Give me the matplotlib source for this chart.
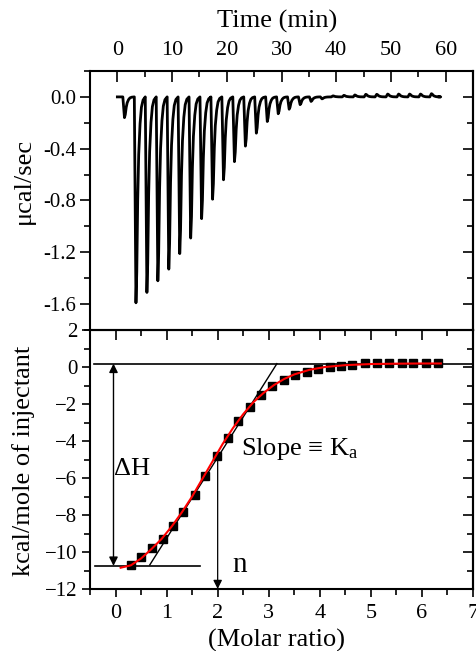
import numpy as np
import matplotlib
matplotlib.use("Agg")
import matplotlib.pyplot as plt
from matplotlib.ticker import MultipleLocator

plt.rcParams['font.family'] = ['Liberation Serif', 'DejaVu Serif']
plt.rcParams['mathtext.fontset'] = 'custom'
plt.rcParams['mathtext.rm'] = 'Liberation Serif'
plt.rcParams['mathtext.it'] = 'Liberation Serif:italic'

# raw thermogram: time of each injection peak (min) and peak height (ucal/sec)
peak_time = [1.3, 3.4, 5.4, 7.4, 9.4, 11.4, 13.4, 15.4, 17.4, 19.4, 21.4, 23.4, 25.4,
             27.4, 29.4, 31.4, 33.4, 35.4, 37.4, 39.4, 41.4, 43.4, 45.4, 47.4, 49.4,
             51.4, 53.4, 55.4, 57.4]
peak_height = [-0.16, -1.59, -1.51, -1.42, -1.33, -1.21, -1.09, -0.94, -0.79, -0.64,
               -0.50, -0.38, -0.28, -0.19, -0.13, -0.095, -0.06, -0.035, -0.015,
               0.008, 0.012, 0.015, 0.02, 0.02, 0.022, 0.022, 0.022, 0.022, 0.025]
trace_end = 58.8

# integrated heats
molar_ratio = [0.30, 0.50, 0.72, 0.92, 1.13, 1.32, 1.55, 1.75, 1.98, 2.20, 2.40, 2.63,
               2.85, 3.07, 3.29, 3.51, 3.74, 3.97, 4.19, 4.41, 4.64, 4.88, 5.12, 5.35,
               5.60, 5.83, 6.07, 6.31]
heat = [-10.68, -10.25, -9.79, -9.29, -8.60, -7.85, -6.90, -5.88, -4.81, -3.82, -2.92,
        -2.15, -1.54, -1.04, -0.72, -0.45, -0.25, -0.11, -0.02, 0.07, 0.12, 0.19, 0.21,
        0.23, 0.22, 0.22, 0.22, 0.22]

# fitted curve
fit_x = [0.10, 0.30, 0.50, 0.70, 0.90, 1.10, 1.30, 1.50, 1.70, 1.90, 2.10, 2.30, 2.50,
         2.70, 2.90, 3.10, 3.30, 3.50, 3.80, 4.10, 4.50, 5.00, 5.50, 6.00, 6.37]
fit_y = [-10.85, -10.72, -10.35, -9.85, -9.30, -8.62, -7.85, -7.00, -6.05, -5.10, -4.15,
         -3.30, -2.55, -1.90, -1.40, -0.98, -0.65, -0.40, -0.15, 0.00, 0.10, 0.16, 0.18,
         0.19, 0.19]

# peak shape (offset in min, fraction of peak height)
shape_dt = [-0.3, -0.12, 0.0, 0.15, 0.32, 0.5, 0.75, 1.0, 1.3, 1.7]
shape_fr = [0.0, 0.6, 1.0, 0.85, 0.5, 0.28, 0.13, 0.05, 0.015, 0.0]

t = [0.0]
p = [0.0]
for tm, h in zip(peak_time, peak_height):
    for dt, fr in zip(shape_dt, shape_fr):
        t.append(tm + dt)
        p.append(h * fr)
t.append(trace_end)
p.append(0.0)

W, H = 477, 651
fig = plt.figure(figsize=(W / 100, H / 100), dpi=100)
ax1 = fig.add_axes([90 / W, 1 - 330 / H, 383 / W, 259 / H])
ax2 = fig.add_axes([90 / W, 1 - 589 / H, 383 / W, 259 / H])

for ax in (ax1, ax2):
    for s in ax.spines.values():
        s.set_linewidth(1.5)

# top panel
ax1.plot(t, p, color='black', lw=2.0)
ax1.set_xlim(-5, 65)
ax1.set_ylim(-1.8, 0.2)
ax1.xaxis.set_major_locator(MultipleLocator(10))
ax1.xaxis.set_minor_locator(MultipleLocator(5))
ax1.yaxis.set_major_locator(MultipleLocator(0.4))
ax1.yaxis.set_minor_locator(MultipleLocator(0.2))
ax1.yaxis.set_major_formatter(matplotlib.ticker.FormatStrFormatter('%.1f'))
ax1.tick_params(axis='x', which='both', top=True, bottom=False, labeltop=True,
                labelbottom=False, direction='in', labelsize=16, pad=8)
ax1.tick_params(axis='x', which='major', length=8, width=1.2)
ax1.tick_params(axis='x', which='minor', length=4, width=1.2)
ax1.tick_params(axis='y', which='both', direction='out', labelsize=15, pad=3)
ax1.tick_params(axis='y', which='major', length=7, width=1.2)
ax1.tick_params(axis='y', which='minor', length=4, width=1.2)
r1 = ax1.secondary_yaxis('right')
r1.yaxis.set_major_locator(MultipleLocator(0.4))
r1.yaxis.set_minor_locator(MultipleLocator(0.2))
r1.tick_params(axis='y', which='both', direction='in', labelright=False)
r1.tick_params(axis='y', which='major', length=7, width=1.2)
r1.tick_params(axis='y', which='minor', length=4, width=1.2)
r1.spines['right'].set_linewidth(1.5)

# bottom panel
ax2.plot(molar_ratio, heat, 's', color='black', ms=6, zorder=3)
ax2.plot(fit_x, fit_y, color='red', lw=1.5, zorder=4)
ax2.plot([-0.42, 7.0], [0.18, 0.18], color='black', lw=1.2)
ax2.plot([-0.4, 1.65], [-10.75, -10.75], color='black', lw=1.2)
ax2.plot([0.67, 3.16], [-10.7, 0.18], color='black', lw=1.0)
ax2.annotate('', xy=(-0.04, 0.18), xytext=(-0.04, -10.75),
             arrowprops=dict(arrowstyle='<|-|>', color='black', lw=1.0,
                             mutation_scale=13, shrinkA=0, shrinkB=0))
ax2.annotate('', xy=(2.0, -12.0), xytext=(2.0, -4.8),
             arrowprops=dict(arrowstyle='-|>', color='black', lw=0.9,
                             mutation_scale=13, shrinkA=0, shrinkB=0))
ax2.text(-0.03, -5.5, 'ΔH', fontsize=19, ha='left', va='center')
ax2.text(2.45, -4.45, r'Slope ≡ K$_{\mathrm{a}}$', fontsize=19, ha='left', va='center')
ax2.text(2.28, -10.7, 'n', fontsize=21, ha='left', va='center')

ax2.set_xlim(-0.5, 7)
ax2.set_ylim(-12, 2)
ax2.xaxis.set_major_locator(MultipleLocator(1))
ax2.xaxis.set_minor_locator(MultipleLocator(0.5))
ax2.yaxis.set_major_locator(MultipleLocator(2))
ax2.yaxis.set_minor_locator(MultipleLocator(1))
ax2.tick_params(axis='x', which='both', direction='out', labelsize=16, pad=5)
ax2.tick_params(axis='y', which='both', direction='out', labelsize=15, pad=3)
ax2.tick_params(axis='both', which='major', length=6, width=1.2)
ax2.tick_params(axis='both', which='minor', length=4, width=1.2)
t2 = ax2.secondary_xaxis('top')
t2.xaxis.set_major_locator(MultipleLocator(1))
t2.xaxis.set_minor_locator(MultipleLocator(0.5))
t2.tick_params(axis='x', which='both', direction='in', labeltop=False)
t2.tick_params(axis='x', which='major', length=7, width=1.2)
t2.tick_params(axis='x', which='minor', length=4, width=1.2)
r2 = ax2.secondary_yaxis('right')
r2.yaxis.set_major_locator(MultipleLocator(2))
r2.yaxis.set_minor_locator(MultipleLocator(1))
r2.tick_params(axis='y', which='both', direction='in', labelright=False)
r2.tick_params(axis='y', which='major', length=7, width=1.2)
r2.tick_params(axis='y', which='minor', length=4, width=1.2)
r2.spines['right'].set_linewidth(1.5)

fig.text(277 / W, 1 - 21 / H, 'Time (min)', fontsize=19, ha='center', va='center')
fig.text(277 / W, 1 - 640 / H, '(Molar ratio)', fontsize=19, ha='center', va='center')
fig.text(24 / W, 1 - 181 / H, 'μcal/sec', fontsize=19, ha='center', va='center', rotation=90)
fig.text(24 / W, 1 - 461 / H, 'kcal/mole of injectant', fontsize=19, ha='center',
         va='center', rotation=90)

fig.savefig('out.png', dpi=100)
